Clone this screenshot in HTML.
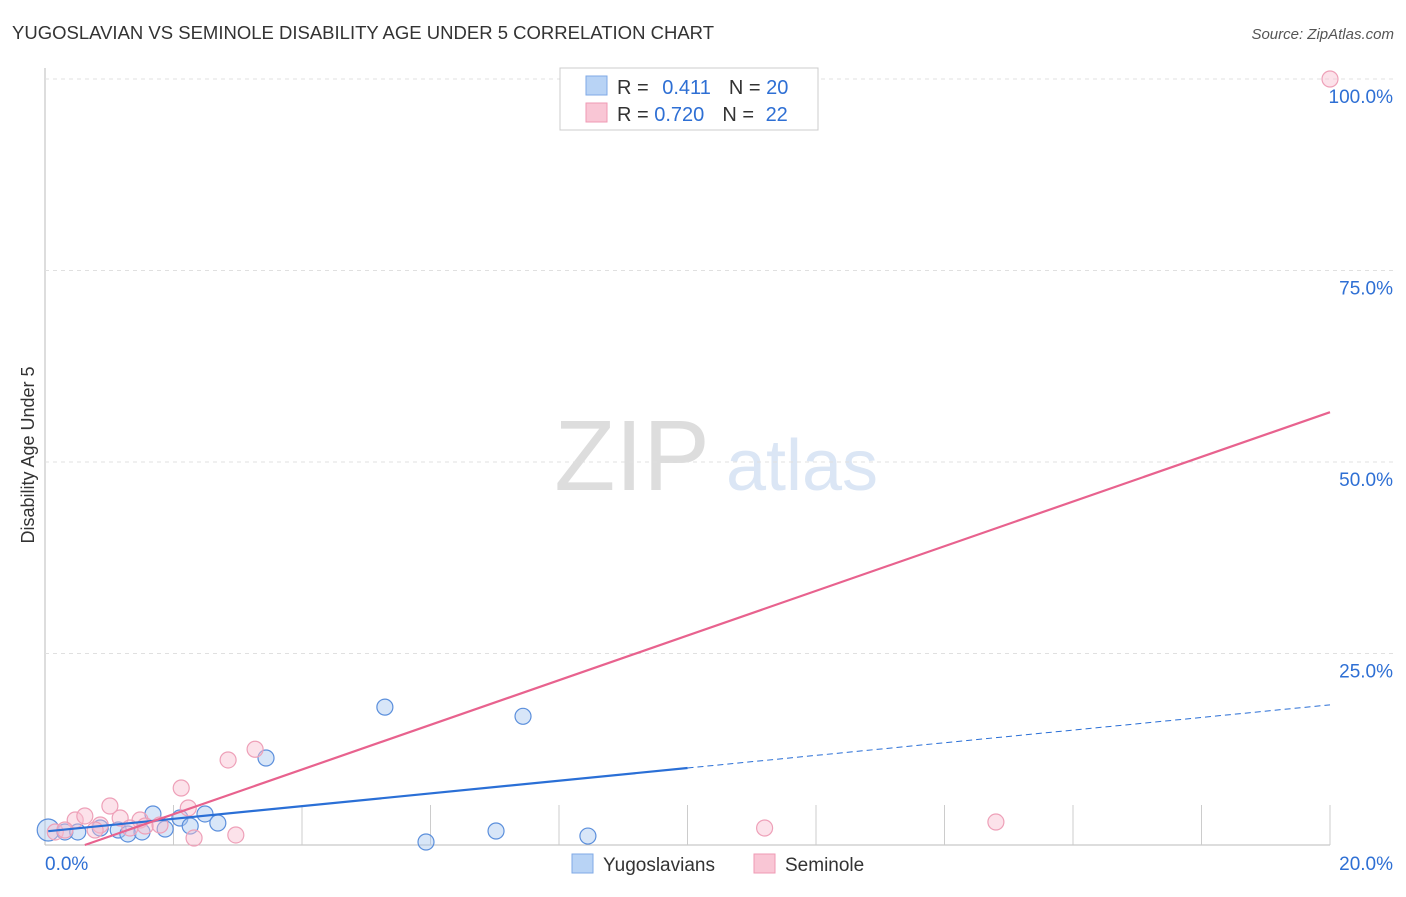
<!DOCTYPE html>
<html><head><meta charset="utf-8"><style>
body{margin:0;background:#fff;font-family:"Liberation Sans",sans-serif;}
svg text{font-family:"Liberation Sans",sans-serif;}
</style></head><body>
<svg id="chart" width="1406" height="892" viewBox="0 0 1406 892" xmlns="http://www.w3.org/2000/svg">
<text x="12" y="39" font-size="18.5" fill="#333" textLength="702">YUGOSLAVIAN VS SEMINOLE DISABILITY AGE UNDER 5 CORRELATION CHART</text>
<text x="1394" y="39" font-size="15" fill="#555" font-style="italic" text-anchor="end">Source: ZipAtlas.com</text>
<text x="34" y="455" font-size="18" fill="#333" transform="rotate(-90 34 455)" text-anchor="middle">Disability Age Under 5</text>
<text x="632" y="490" font-size="100" fill="#ddd" font-family="Liberation Serif" text-anchor="middle">ZIP</text>
<text x="802" y="490" font-size="72" fill="#dbe6f5" text-anchor="middle">atlas</text>
<g id="grid"></g><g id="marks"></g>
<g>
<rect x="560" y="68" width="258" height="62" fill="#fff" stroke="#ccc"/>
<rect x="586" y="76" width="21" height="19" fill="#b8d3f5" stroke="#7faae6"/>
<rect x="586" y="103" width="21" height="19" fill="#f9c6d5" stroke="#ef9ab4"/>
<text x="617" y="94" font-size="20" fill="#333">R = <tspan fill="#2e6fd4" dx="8">0.411</tspan><tspan fill="#333" dx="18">N = </tspan><tspan fill="#2e6fd4">20</tspan></text>
<text x="617" y="121" font-size="20" fill="#333">R = <tspan fill="#2e6fd4">0.720</tspan><tspan fill="#333" dx="18">N = </tspan><tspan fill="#2e6fd4" dx="6">22</tspan></text>
</g>
<g>
<rect x="572" y="854" width="21" height="19" fill="#b8d3f5" stroke="#7faae6"/>
<text x="603" y="871" font-size="19" fill="#333">Yugoslavians</text>
<rect x="754" y="854" width="21" height="19" fill="#f9c6d5" stroke="#ef9ab4"/>
<text x="785" y="871" font-size="19" fill="#333">Seminole</text>
</g>
</svg>
<script>
const yTicks=[25,50,75,100];
const xTickLabels=["0.0%","20.0%"];
const blueX=[0.05,0.31,0.51,0.86,1.14,1.29,1.51,1.68,1.87,2.1,2.26,2.49,2.69,3.44,5.29,5.93,7.02,7.44,8.45];
const blueY=[1.96,1.7,1.7,2.22,1.96,1.44,1.7,4.05,2.09,3.52,2.48,4.05,2.87,11.36,18.0,0.39,1.83,16.8,1.17];
const pinkX=[0.16,0.47,0.62,0.86,1.01,1.17,1.48,1.56,1.79,2.12,2.23,2.32,2.85,2.97,3.27,11.2,14.8,20.0,0.31,1.32,0.78];
const pinkY=[1.7,3.26,3.79,2.61,5.09,3.52,3.26,2.48,2.61,7.44,4.83,0.91,11.1,1.31,12.5,2.22,3.0,100,1.96,2.22,1.96];
const blueLine=[0.05,1.8,10,10.05,20,18.3];
const pinkLine=[0.62,0,20,56.5];
const X=v=>45+v*64.25, Y=v=>845-v*7.66;
const NS="http://www.w3.org/2000/svg";
const grid=document.getElementById('grid'), marks=document.getElementById('marks');
function mk(tag,attrs,parent){const e=document.createElementNS(NS,tag);for(const k in attrs)e.setAttribute(k,attrs[k]);parent.appendChild(e);return e;}
let ax=mk('line',{x1:45,y1:68,x2:45,y2:845,stroke:'#bbb'},grid);


let bx=mk('line',{x1:45,y1:845,x2:1330,y2:845,stroke:'#bbb'},grid);


yTicks.forEach(t=>{
 let g=mk('line',{x1:45,y1:Y(t),x2:1395,y2:Y(t),stroke:'#e0e0e0','stroke-dasharray':'4,4'},grid);
 
 
 let l=mk('text',{x:1393,y:Y(t)+24,'font-size':19,fill:'#2e6fd4','text-anchor':'end'},grid);l.textContent=t.toFixed(1)+'%';
 
 
});
for(let i=1;i<=10;i++){let t=mk('line',{x1:X(i*2),y1:805,x2:X(i*2),y2:845,stroke:'#ccc'},grid);
 
 }
let l0=mk('text',{x:45,y:870,'font-size':19,fill:'#2e6fd4'},grid);l0.textContent=xTickLabels[0];


let l1=mk('text',{x:1393,y:870,'font-size':19,fill:'#2e6fd4','text-anchor':'end'},grid);l1.textContent=xTickLabels[1];


blueX.forEach((x,i)=>{let c=mk('circle',{cx:X(x),cy:Y(blueY[i]),r:i==0?11:8,fill:'rgba(168,199,240,0.45)',stroke:'#5b8fdc','stroke-width':1.2},marks);
 
 });
pinkX.forEach((x,i)=>{let c=mk('circle',{cx:X(x),cy:Y(pinkY[i]),r:8,fill:'rgba(248,190,208,0.45)',stroke:'#eea0b8','stroke-width':1.2},marks);
 
 });
let b1=mk('line',{x1:X(blueLine[0]),y1:Y(blueLine[1]),x2:X(blueLine[2]),y2:Y(blueLine[3]),stroke:'#2a6fd6','stroke-width':2.2},marks);


let b2=mk('line',{x1:X(blueLine[2]),y1:Y(blueLine[3]),x2:X(blueLine[4]),y2:Y(blueLine[5]),stroke:'#2a6fd6','stroke-width':1,'stroke-dasharray':'6,4'},marks);


let p1=mk('line',{x1:X(pinkLine[0]),y1:Y(pinkLine[1]),x2:X(pinkLine[2]),y2:Y(pinkLine[3]),stroke:'#e8628e','stroke-width':2.2},marks);


</script>
</body></html>
